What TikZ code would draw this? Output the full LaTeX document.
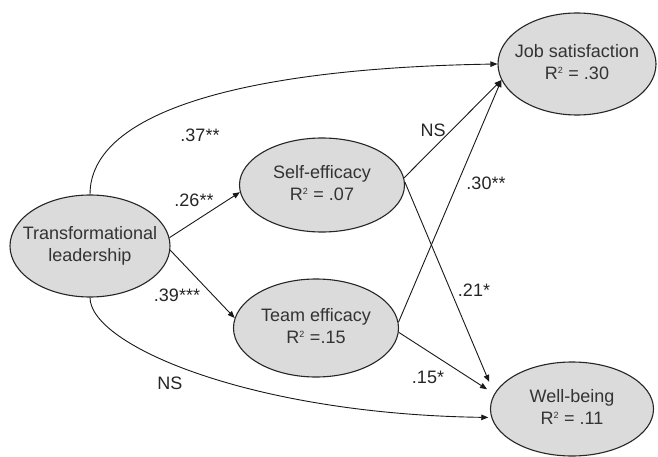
\documentclass[tikz,border=0pt]{standalone}
\usepackage{fontspec}
\setmainfont{Liberation Sans}
\usetikzlibrary{shapes.geometric,arrows.meta}
\newcommand\elltext[1]{\makebox[0pt]{\begin{tabular}{@{}c@{}}#1\end{tabular}}}
\newcommand\Rsqr{R\textsuperscript{\fontsize{9}{9}\selectfont 2}}
\begin{document}
\begin{tikzpicture}[x=1pt,y=-1pt,
  font=\fontsize{18}{22}\selectfont,
  latent/.style={ellipse, draw=black!85, line width=1.1pt, fill=gray!28, inner sep=0pt, text=black!80},
  arr/.style={draw=black!90, line width=0.9pt, -{Triangle[length=7pt,width=5.5pt]}},
  lab/.style={inner sep=0pt, text=black!85}]
\useasboundingbox[fill=white] (0,0) rectangle (658,457);
\node[latent, minimum width=160pt, minimum height=102pt] (tl) at (90,246) {\elltext{Transformational\\leadership}};
\node[latent, minimum width=165pt, minimum height=94pt] (se) at (322,185) {\elltext{Self-efficacy\\\Rsqr{} = .07}};
\node[latent, minimum width=165pt, minimum height=98pt] (te) at (316,328) {\elltext{Team efficacy\\\Rsqr{} =.15}};
\node[latent, minimum width=158pt, minimum height=102pt] (js) at (577,64) {\elltext{Job satisfaction\\\Rsqr{} = .30}};
\node[latent, minimum width=163pt, minimum height=94pt] (wb) at (572,409) {\elltext{Well-being\\\Rsqr{} = .11}};

\draw[arr] (tl.north) .. controls (90,110) and (250,68) .. (js.west);
\draw[arr, shorten >=3pt] (tl.south) .. controls (90,345) and (250,414) .. (wb.186);
\draw[arr] (tl.6) -- (se.185);
\draw[arr] (tl.-3) -- (te.173);
\draw[arr] (se.5) -- (js.192);
\draw[arr] (te.4) -- (js.192);
\draw[arr, shorten >=13pt] (se.2) -- (wb.169);
\draw[arr, shorten >=8.5pt] (te.-3) -- (wb.169);

\node[lab] (l37) at (200,135) {.37**};
\node[lab] (l26) at (194,200) {.26**};
\node[lab] (l39) at (177,295) {.39***};
\node[lab] (lns1) at (170,383) {NS};
\node[lab] (lns2) at (433,130) {NS};
\node[lab] (l30) at (486,183) {.30**};
\node[lab] (l21) at (474,290) {.21*};
\node[lab] (l15) at (428,377) {.15*};
\end{tikzpicture}
\end{document}
